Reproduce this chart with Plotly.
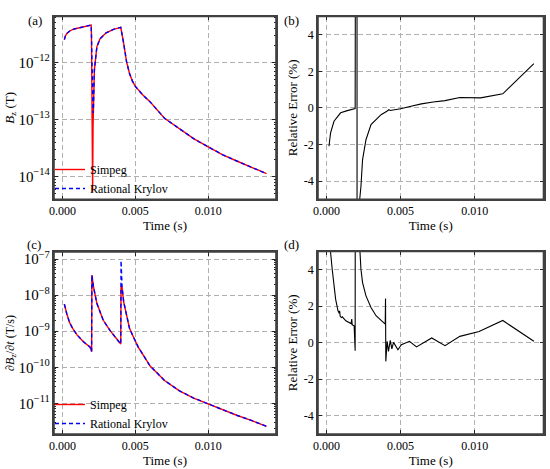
import plotly.graph_objects as go

# ---------------- data ----------------
# (a) Bz (T)
bz_t = [0.00013, 0.0002, 0.0003, 0.0005, 0.0008, 0.0012, 0.0016, 0.00197, 0.00199,
        0.00203, 0.00207, 0.0021, 0.00212, 0.00219, 0.00236, 0.00258, 0.003, 0.0035,
        0.004, 0.00404, 0.0041, 0.0042, 0.0044, 0.0046, 0.0048, 0.005, 0.0055, 0.006,
        0.007, 0.008, 0.009, 0.010, 0.011, 0.012, 0.013, 0.014]
bz_simpeg = [2.5e-12, 2.9e-12, 3.2e-12, 3.55e-12, 3.85e-12, 4.1e-12, 4.3e-12, 4.5e-12, 3.0e-12,
             1.0e-13, 5.4e-15, 8e-14, 1.45e-13, 7.3e-13, 1.87e-12, 2.6e-12, 3.3e-12, 3.8e-12,
             4.1e-12, 3.7e-12, 3.0e-12, 2.15e-12, 1.02e-12, 6.4e-13, 4.7e-13, 3.8e-13, 2.7e-13, 2.05e-13,
             1.05e-13, 6.9e-14, 4.6e-14, 3.3e-14, 2.4e-14, 1.85e-14, 1.44e-14, 1.12e-14]
bz_krylov = [2.5e-12, 2.9e-12, 3.2e-12, 3.55e-12, 3.85e-12, 4.1e-12, 4.3e-12, 4.5e-12, 3.0e-12,
             4.0e-13, 1.4e-13, 1.3e-13, 1.45e-13, 7.3e-13, 1.87e-12, 2.6e-12, 3.3e-12, 3.8e-12,
             4.1e-12, 3.7e-12, 3.0e-12, 2.15e-12, 1.02e-12, 6.4e-13, 4.7e-13, 3.8e-13, 2.7e-13, 2.05e-13,
             1.05e-13, 6.9e-14, 4.6e-14, 3.3e-14, 2.4e-14, 1.85e-14, 1.44e-14, 1.12e-14]

# (b) relative error of Bz (%)
eb_t = [0.00016, 0.00027, 0.0005, 0.00095, 0.0014, 0.00193, 0.00204, 0.00208, 0.0022,
        0.00232, 0.00243, 0.00266, 0.003, 0.00368, 0.0041, 0.0042, 0.0043, 0.005,
        0.0057, 0.0064, 0.0072, 0.008, 0.009, 0.0104, 0.0119, 0.014]
eb_v = [-2.1, -1.37, -0.73, -0.27, -0.15, -0.04, 60.0, -80.0, -5.3,
        -4.3, -2.83, -1.74, -0.91, -0.37, -0.17, -0.1, -0.14, -0.05,
        0.09, 0.22, 0.32, 0.40, 0.57, 0.55, 0.77, 2.42]

# (c) dBz/dt (T/s)
dt_t = [0.00013, 0.0002, 0.0003, 0.0005, 0.0007, 0.001, 0.00144, 0.0019, 0.002, 0.00202,
        0.00213, 0.00236, 0.0028, 0.00327, 0.00373, 0.00395, 0.004, 0.00402, 0.00409,
        0.0042, 0.00441, 0.0046, 0.00486, 0.0052, 0.0056, 0.006, 0.007, 0.008, 0.009,
        0.010, 0.011, 0.012, 0.013, 0.014]
dt_simpeg = [5.6e-9, 4.0e-9, 3.0e-9, 1.7e-9, 1.2e-9, 7.9e-10, 5.1e-10, 3.6e-10, 2.75e-10, 3.6e-8,
             1.7e-8, 5.9e-9, 2.0e-9, 1.03e-9, 6.0e-10, 4.6e-10, 4.4e-10, 1.8e-8, 1.6e-8,
             6.5e-9, 2.5e-9, 1.2e-9, 7.0e-10, 3.6e-10, 2.0e-10, 1.1e-10, 4.3e-11, 2.25e-11, 1.4e-11,
             9.6e-12, 6.7e-12, 4.6e-12, 3.3e-12, 2.3e-12]
dt_krylov = [5.6e-9, 4.0e-9, 3.0e-9, 1.7e-9, 1.2e-9, 7.9e-10, 5.1e-10, 3.6e-10, 2.75e-10, 3.6e-8,
             1.7e-8, 5.9e-9, 2.0e-9, 1.03e-9, 6.0e-10, 4.6e-10, 4.4e-10, 9.0e-8, 1.7e-8,
             6.5e-9, 2.5e-9, 1.2e-9, 7.0e-10, 3.6e-10, 2.0e-10, 1.1e-10, 4.3e-11, 2.25e-11, 1.4e-11,
             9.6e-12, 6.7e-12, 4.6e-12, 3.3e-12, 2.3e-12]

# (d) relative error of dBz/dt (%)
ed_t = [0.00025, 0.00027, 0.00038, 0.0005, 0.00061, 0.00077, 0.00085, 0.00088, 0.00092,
        0.001, 0.00106, 0.0013, 0.00152, 0.00165, 0.0017, 0.00173, 0.00186, 0.00193,
        0.00198, 0.00222, 0.00232, 0.00243, 0.00266, 0.003, 0.00334, 0.00368, 0.00396,
        0.00398, 0.004, 0.00409, 0.00418, 0.0043, 0.00441, 0.00452, 0.00482, 0.00505,
        0.0056, 0.00607, 0.0071, 0.008, 0.009, 0.0103, 0.0119, 0.014]
ed_v = [5.5, 4.94, 4.03, 3.11, 2.39, 1.75, 1.62, 1.75, 1.45,
        1.38, 1.42, 1.2, 1.08, 1.05, 1.3, 0.98, 0.93, -0.44,
        60.0, 5.5, 4.03, 3.3, 2.57, 1.93, 1.48, 1.2, 1.02,
        2.43, -1.02, 0.08, -0.47, 0.13, -0.34, 0.02, -0.38, -0.11,
        0.08, -0.23, 0.26, -0.16, 0.35, 0.62, 1.22, 0.08]

x_ticks = [0.0, 0.005, 0.010]
x_ticktext = ["0.000", "0.005", "0.010"]
err_ticks = [-4, -2, 0, 2, 4]
err_ticktext = ["-4", "-2", "0", "2", "4"]

# ---------------- figure ----------------
FONT = "Liberation Serif, Times New Roman, serif"
AX = "#404040"
W, H = 550, 469

fig = go.Figure()
fig.add_trace(go.Scatter(x=bz_t, y=bz_simpeg, mode="lines", name="Simpeg",
                         line=dict(color="#ff0000", width=1.4), xaxis="x", yaxis="y", legend="legend"))
fig.add_trace(go.Scatter(x=bz_t, y=bz_krylov, mode="lines", name="Rational Krylov",
                         line=dict(color="#0000ff", width=1.4, dash="4px,3px"), xaxis="x", yaxis="y", legend="legend"))
fig.add_trace(go.Scatter(x=eb_t, y=eb_v, mode="lines", showlegend=False,
                         line=dict(color="black", width=1.1), xaxis="x2", yaxis="y2"))
fig.add_trace(go.Scatter(x=dt_t, y=dt_simpeg, mode="lines", name="Simpeg",
                         line=dict(color="#ff0000", width=1.4), xaxis="x3", yaxis="y3", legend="legend2"))
fig.add_trace(go.Scatter(x=dt_t, y=dt_krylov, mode="lines", name="Rational Krylov",
                         line=dict(color="#0000ff", width=1.4, dash="4px,3px"), xaxis="x3", yaxis="y3", legend="legend2"))
fig.add_trace(go.Scatter(x=ed_t, y=ed_v, mode="lines", showlegend=False,
                         line=dict(color="black", width=1.1), xaxis="x4", yaxis="y4"))


def px_x(a, b):
    return [a / W, b / W]


def px_y(top, bottom):
    return [1 - bottom / H, 1 - top / H]


common = dict(showline=True, linecolor=AX, linewidth=1.5, mirror="ticks",
              ticks="inside", ticklen=4, tickwidth=1, tickcolor="#222222", automargin=False,
              showgrid=True, gridcolor="#b0b0b0", griddash="5px,3px", gridwidth=0.8,
              zeroline=False, tickfont=dict(family=FONT, size=12, color="black"))

xcommon = dict(common, range=[-0.00058, 0.01465], tickvals=x_ticks, ticktext=x_ticktext,
               title=dict(text="Time (s)", font=dict(family=FONT, size=13, color="black"), standoff=1))

logminor = dict(ticks="inside", ticklen=2, tickcolor="#222222", showgrid=False)

fig.update_layout(
    template="none",
    width=W, height=H, margin=dict(l=0, r=0, t=0, b=0, autoexpand=False),
    paper_bgcolor="white", plot_bgcolor="white",
    font=dict(family=FONT, size=12, color="black"),
    xaxis=dict(xcommon, domain=px_x(54, 276), anchor="y"),
    yaxis=dict(common, type="log", domain=px_y(16.5, 199.3), anchor="x",
               range=[-14.40, -11.196], dtick=1, exponentformat="power", minor=logminor,
               title=dict(text="<i>B</i><sub>z</sub> (T)", font=dict(family=FONT, size=13, color="black"), standoff=0)),
    xaxis2=dict(xcommon, domain=px_x(318, 543.5), anchor="y2"),
    yaxis2=dict(common, domain=px_y(16.5, 199.3), anchor="x2", range=[-5, 5],
                tickvals=err_ticks, ticktext=err_ticktext,
                title=dict(text="Relative Error (%)", font=dict(family=FONT, size=13, color="black"), standoff=3)),
    xaxis3=dict(xcommon, domain=px_x(54, 276), anchor="y3"),
    yaxis3=dict(common, type="log", domain=px_y(252, 434), anchor="x3",
                range=[-11.85, -6.806], dtick=1, exponentformat="power", minor=logminor,
                title=dict(text="∂<i>B</i><sub>z</sub>/∂<i>t</i> (T/s)", font=dict(family=FONT, size=12, color="black"), standoff=0)),
    xaxis4=dict(xcommon, domain=px_x(318, 543.5), anchor="y4"),
    yaxis4=dict(common, domain=px_y(251.5, 434), anchor="x4", range=[-5, 5],
                tickvals=err_ticks, ticktext=err_ticktext,
                title=dict(text="Relative Error (%)", font=dict(family=FONT, size=13, color="black"), standoff=3)),
    legend=dict(x=50 / W, y=1 - 155 / H, xanchor="left", yanchor="top", bgcolor="rgba(0,0,0,0)",
                font=dict(family=FONT, size=12, color="black"), itemwidth=30, tracegroupgap=0),
    legend2=dict(x=50 / W, y=1 - 390 / H, xanchor="left", yanchor="top", bgcolor="rgba(0,0,0,0)",
                 font=dict(family=FONT, size=12, color="black"), itemwidth=30, tracegroupgap=0),
)

# axes frames (box around each panel)
for xr, yr in [("x", "y"), ("x2", "y2"), ("x3", "y3"), ("x4", "y4")]:
    fig.add_shape(type="rect", xref=xr + " domain", yref=yr + " domain", x0=0, x1=1, y0=0, y1=1,
                  line=dict(color=AX, width=1.6), fillcolor="rgba(0,0,0,0)", layer="above")

for lab, xp, yp in [("(a)", 26, 11), ("(b)", 291, 11), ("(c)", 25, 245), ("(d)", 291, 245)]:
    fig.add_annotation(text=lab, x=xp / W, y=1 - yp / H, xref="paper", yref="paper",
                       showarrow=False, font=dict(family=FONT, size=13, color="black"))

fig.write_html("out.html", config={"displayModeBar": False},
               post_script="document.body.style.margin='0px';document.body.style.overflow='hidden';")
